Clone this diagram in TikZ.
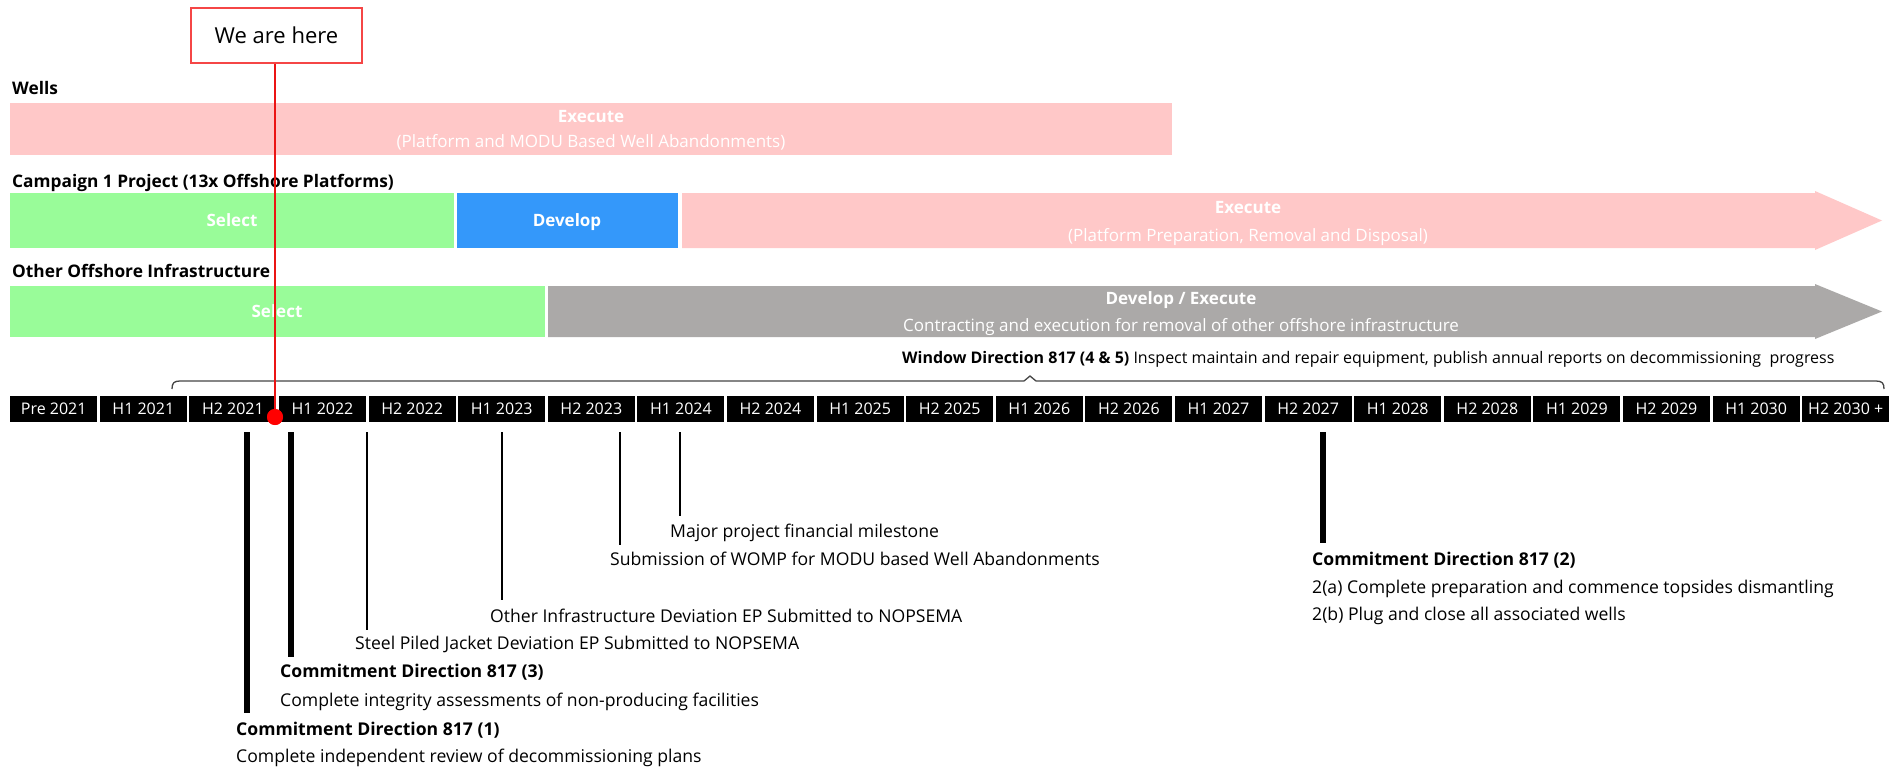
\documentclass[tikz,border=0pt]{standalone}
\usepackage{fontspec}
\setmainfont{Open Sans}
\definecolor{pinkc}{RGB}{255,200,200}
\definecolor{greenc}{RGB}{153,252,153}
\definecolor{bluec}{RGB}{52,152,250}
\definecolor{grayc}{RGB}{171,169,168}
\definecolor{boxred}{RGB}{245,70,70}
\definecolor{linered}{RGB}{235,20,20}
\definecolor{bracec}{RGB}{70,70,70}
\begin{document}
\begin{tikzpicture}[x=1pt,y=-1pt,
  hdr/.style={anchor=base west, inner sep=0, font=\fontsize{17.3}{20}\selectfont\bfseries},
  bartxt/.style={anchor=base, inner sep=0, text=white, font=\fontsize{17}{20}\selectfont},
  barbold/.style={anchor=base, inner sep=0, text=white, font=\fontsize{17}{20}\selectfont\bfseries},
  barbox/.style={anchor=north west, inner sep=0, outer sep=0},
  cell/.style={fill=black, text=white, minimum width=87pt, minimum height=26pt, inner sep=0, anchor=north west, font=\fontsize{16}{18}\selectfont},
  ms/.style={anchor=base west, inner sep=0, font=\fontsize{17.6}{20}\selectfont},
  msb/.style={anchor=base west, inner sep=0, font=\fontsize{17.6}{20}\selectfont\bfseries},
  thickline/.style={line width=6pt},
  thinline/.style={line width=2.4pt},
]
\useasboundingbox[fill=white] (0,0) rectangle (1903,768);

% headers
\node[hdr] (hwells) at (12,95) {Wells};
\node[hdr] (hcamp) at (12,187) {Campaign 1 Project (13x Offshore Platforms)};
\node[hdr] (hother) at (12,277) {Other Offshore Infrastructure};

% Wells bar
\node[barbox, fill=pinkc, minimum width=1162pt, minimum height=52pt] (wells) at (10,103) {};
\node[barbold] (wex) at (591,122) {Execute};
\node[bartxt] (wexs) at (591,147) {(Platform and MODU Based Well Abandonments)};

% Campaign bars
\node[barbox, fill=greenc, minimum width=444pt, minimum height=55pt] (csel) at (10,193) {};
\node[barbold] (cselt) at (232,226) {Select};
\node[barbox, fill=bluec, minimum width=221pt, minimum height=55pt] (cdev) at (457,193) {};
\node[barbold] (cdevt) at (567,226) {Develop};
\fill[pinkc] (682,193) -- (1815,193) -- (1815,191) -- (1882,220.5) -- (1815,250) -- (1815,248) -- (682,248) -- cycle;
\node[barbold] (cext) at (1248,213) {Execute};
\node[bartxt] (cexs) at (1248,241) {(Platform Preparation, Removal and Disposal)};

% Other bars
\node[barbox, fill=greenc, minimum width=535pt, minimum height=51pt] (osel) at (10,286) {};
\node[barbold] (oselt) at (277,317) {Select};
\fill[grayc] (548,286) -- (1815,286) -- (1815,284) -- (1882,311.5) -- (1815,339) -- (1815,337) -- (548,337) -- cycle;
\node[barbold] (odev) at (1181,304) {Develop / Execute};
\node[bartxt] (odevs) at (1181,331) {Contracting and execution for removal of other offshore infrastructure};

% Window text and brace
\node[anchor=base west, inner sep=0, font=\fontsize{16}{18}\selectfont] (win) at (902,363)
  {\textbf{Window Direction 817 (4 \& 5)} Inspect maintain and repair equipment, publish annual reports on decommissioning\ \ progress};
\draw[bracec, line width=1.3pt] (172,389) .. controls (172,383) and (174,381) .. (180,381) -- (1024,381) -- (1030,376) -- (1036,381) -- (1876,381) .. controls (1882,381) and (1884,383) .. (1884,389);

% timeline
\foreach \lab [count=\i from 0] in {Pre 2021,H1 2021,H2 2021,H1 2022,H2 2022,H1 2023,H2 2023,H1 2024,H2 2024,H1 2025,H2 2025,H1 2026,H2 2026,H1 2027,H2 2027,H1 2028,H2 2028,H1 2029,H2 2029,H1 2030,H2 2030 +}
  \node[cell] (c\i) at ({10+89.6*\i},396) {\lab};

% milestones
\coordinate (m1a) at (247,432); \coordinate (m1b) at (247,713);
\coordinate (m2a) at (291,432); \coordinate (m2b) at (291,657);
\coordinate (m3a) at (367,432); \coordinate (m3b) at (367,630);
\coordinate (m4a) at (502,432); \coordinate (m4b) at (502,600);
\coordinate (m5a) at (620,432); \coordinate (m5b) at (620,545);
\coordinate (m6a) at (680,432); \coordinate (m6b) at (680,516);
\coordinate (m7a) at (1323,432); \coordinate (m7b) at (1323,543);
\draw[thickline] (m1a) -- (m1b);
\draw[thickline] (m2a) -- (m2b);
\draw[thinline] (m3a) -- (m3b);
\draw[thinline] (m4a) -- (m4b);
\draw[thinline] (m5a) -- (m5b);
\draw[thinline] (m6a) -- (m6b);
\draw[thickline] (m7a) -- (m7b);

\node[ms] (t6) at (670,537) {Major project financial milestone};
\node[ms] (t5) at (610,565) {Submission of WOMP for MODU based Well Abandonments};
\node[ms] (t4) at (490,622) {Other Infrastructure Deviation EP Submitted to NOPSEMA};
\node[ms] (t3) at (355,649) {Steel Piled Jacket Deviation EP Submitted to NOPSEMA};
\node[msb] (t2) at (280,677) {Commitment Direction 817 (3)};
\node[ms] (t2b) at (280,706) {Complete integrity assessments of non-producing facilities};
\node[msb] (t1) at (236,735) {Commitment Direction 817 (1)};
\node[ms] (t1b) at (236,762) {Complete independent review of decommissioning plans};
\node[msb] (t7) at (1312,565) {Commitment Direction 817 (2)};
\node[ms] (t7a) at (1312,593) {2(a) Complete preparation and commence topsides dismantling};
\node[ms] (t7b) at (1312,620) {2(b) Plug and close all associated wells};

% we are here
\node[draw=boxred, line width=1.5pt, fill=white, minimum width=171pt, minimum height=55pt, inner sep=0, font=\fontsize{22}{24}\selectfont] (here) at (276.5,35.5) {We are here};
\node[circle, fill=red, minimum size=16pt, inner sep=0] (dot) at (275,417) {};
\draw[linered, line width=1.6pt] (here.south -| dot) -- (dot.center);
\node[circle, fill=red, minimum size=16pt, inner sep=0] at (dot.center) {};
\end{tikzpicture}
\end{document}
